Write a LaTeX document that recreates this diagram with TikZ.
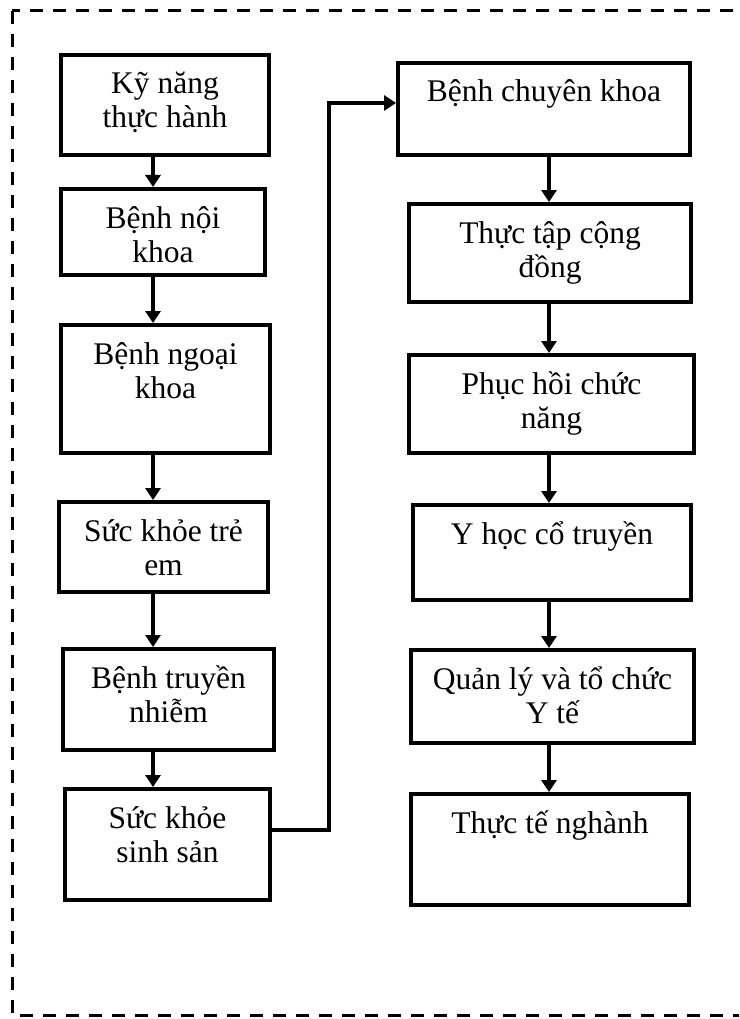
\documentclass[tikz,border=0pt]{standalone}
\usepackage{fontspec}
\setmainfont{Liberation Serif}
\usetikzlibrary{arrows.meta}
\newcommand{\boxtxt}[3]{\parbox[t][#2][t]{#1}{\centering\rule{0pt}{39pt}#3}}

\begin{document}
\begin{tikzpicture}
  [x=1pt,y=-1pt,
   card/.style={draw,line width=4pt,inner sep=0pt,anchor=north west,font=\fontsize{31.5pt}{34pt}\selectfont},
   link/.style={line width=3.5pt,-{Triangle[width=15pt,length=12pt]}}]
  \useasboundingbox (0,0) rectangle (739,1019);
  \clip (0,0) rectangle (739,1019);
  \draw[line width=3pt,dash pattern=on 13pt off 10pt] (12,11) rectangle (760,1015);

  % left column
  \node[card] (s1) at (59,53) {\boxtxt{208pt}{100pt}{Kỹ năng\\thực hành}};
  \node[card] (s2) at (59,187) {\boxtxt{204pt}{86pt}{Bệnh nội\\khoa}};
  \node[card] (s3) at (59,323) {\boxtxt{209pt}{128pt}{Bệnh ngoại\\khoa}};
  \node[card] (s4) at (57,500) {\boxtxt{209pt}{90pt}{Sức khỏe trẻ\\em}};
  \node[card] (s5) at (61,647) {\boxtxt{211pt}{101pt}{Bệnh truyền\\nhiễm}};
  \node[card] (s6) at (63,787) {\boxtxt{205pt}{111pt}{Sức khỏe\\sinh sản}};

  % right column
  \node[card] (s7) at (396,61) {\boxtxt{292pt}{92pt}{Bệnh chuyên khoa}};
  \node[card] (s8) at (407,202) {\boxtxt{282pt}{98pt}{Thực tập cộng\\đồng}};
  \node[card] (s9) at (407,353) {\boxtxt{285pt}{98pt}{Phục hồi chức\\năng}};
  \node[card] (s10) at (411,503) {\boxtxt{278pt}{95pt}{Y học cổ truyền}};
  \node[card] (s11) at (409,648) {\boxtxt{283pt}{93pt}{Quản lý và tổ chức\\Y tế}};
  \node[card] (s12) at (409,792) {\boxtxt{278pt}{111pt}{Thực tế nghành}};

  \coordinate (lcol) at (153,0);
  \coordinate (rcol) at (549,0);
  \coordinate (turn) at (329,103);

  \foreach \from/\to/\col in {s1/s2/lcol,s2/s3/lcol,s3/s4/lcol,s4/s5/lcol,s5/s6/lcol,s7/s8/rcol,s8/s9/rcol,s9/s10/rcol,s10/s11/rcol,s11/s12/rcol}
    \draw[link] (\from.south -| \col) -- (\to.north -| \col);

  \draw[link] ([yshift=14.5pt]s6.east) -| (turn) -- ([yshift=6pt]s7.west);

\end{tikzpicture}
\end{document}
